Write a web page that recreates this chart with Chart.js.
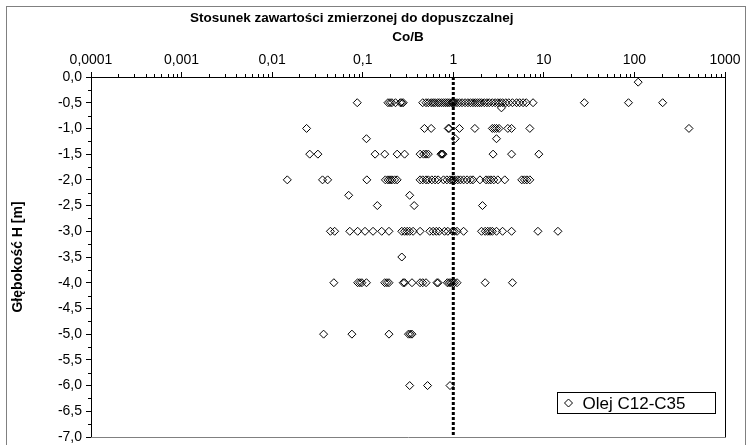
<!DOCTYPE html>
<html>
<head>
<meta charset="utf-8">
<script src="https://cdn.jsdelivr.net/npm/chart.js@4.4.0/dist/chart.umd.min.js"></script>
<style>
  body { margin: 0; background: #fff; }
  #wrap { width: 749px; height: 445px; }
</style>
</head>
<body>
<div id="wrap"><canvas id="chart" width="749" height="445"></canvas></div>
<script>
  // sampling depths H [m] and the Co/B ratios read at each depth
  const depths = [-0.1, -0.5, -0.6, -1.0, -1.2, -1.5, -2.0, -2.3, -2.5, -3.0, -3.5, -4.0, -5.0, -6.0];
  const cobH01 = [110];
  const cobH05 = [0.087, 0.19, 0.2, 0.21, 0.23, 0.26, 0.27, 0.28, 0.46, 0.5, 0.53, 0.57, 0.6, 0.63, 0.67, 0.7,
    0.74, 0.78, 0.82, 0.86, 0.9, 0.95, 0.98, 1.0, 1.04, 1.1, 1.17, 1.25, 1.35, 1.45, 1.55, 1.65, 1.75, 1.85,
    1.95, 2.05, 2.2, 2.35, 2.5, 2.7, 2.9, 3.1, 3.3, 3.5, 3.8, 4.1, 4.5, 5.0, 5.4, 5.9, 6.4, 7.6, 28, 86, 205];
  const cobH06 = [3.4];
  const cobH10 = [0.024, 0.48, 0.57, 0.88, 0.9, 1.17, 1.73, 2.7, 2.85, 3.0, 3.2, 4.0, 4.4, 7.0, 400];
  const cobH12 = [0.11, 1.05, 3.0];
  const cobH15 = [0.026, 0.032, 0.137, 0.175, 0.24, 0.29, 0.43, 0.47, 0.5, 0.53, 0.73, 0.75, 0.77, 2.75, 4.4, 8.8];
  const cobH20 = [0.0147, 0.036, 0.041, 0.111, 0.178, 0.19, 0.2, 0.21, 0.225, 0.24, 0.43, 0.46, 0.5, 0.53,
    0.58, 0.63, 0.68, 0.78, 0.85, 0.92, 0.97, 1.0, 1.05, 1.12, 1.2, 1.3, 1.42, 1.55, 1.65, 1.97, 2.3, 2.45,
    2.6, 2.8, 3.1, 3.7, 5.7, 6.1, 6.5, 7.0];
  const cobH23 = [0.07, 0.33];
  const cobH25 = [0.145, 0.37, 2.1];
  const cobH30 = [0.044, 0.049, 0.072, 0.088, 0.106, 0.13, 0.162, 0.195, 0.27, 0.29, 0.31, 0.33, 0.36, 0.43,
    0.55, 0.6, 0.65, 0.7, 0.8, 0.87, 0.98, 1.03, 1.1, 1.3, 2.05, 2.25, 2.4, 2.55, 2.7, 3.0, 3.5, 4.4, 8.6, 14.3];
  const cobH35 = [0.27];
  const cobH40 = [0.048, 0.088, 0.093, 0.098, 0.11, 0.175, 0.185, 0.195, 0.28, 0.29, 0.35, 0.43, 0.46, 0.5,
    0.66, 0.68, 0.86, 0.9, 0.94, 0.98, 1.03, 1.1, 2.25, 4.5];
  const cobH50 = [0.037, 0.076, 0.195, 0.32, 0.335, 0.35];
  const cobH60 = [0.33, 0.52, 0.92];
  const cobByDepth = [cobH01, cobH05, cobH06, cobH10, cobH12, cobH15, cobH20, cobH23, cobH25, cobH30,
    cobH35, cobH40, cobH50, cobH60];

  const limitLine = [{ x: 1, y: 0 }, { x: 1, y: -7 }];
  const xTickValues = [0.0001, 0.001, 0.01, 0.1, 1, 10, 100, 1000];
  const xTickLabels = ['0,0001', '0,001', '0,01', '0,1', '1', '10', '100', '1000'];
  const seriesName = 'Olej C12-C35';
  // first title line sits left of the axis centre in the original, padded to keep that offset
  const xTitle = ['Stosunek zawartości zmierzonej do dopuszczalnej' + '\u00A0'.repeat(30), 'Co/B'];

  const points = [];
  depths.forEach((h, i) => {
    cobByDepth[i].forEach(v => points.push({ x: v, y: h }));
  });

  const FONT = "'Liberation Sans', Arial, sans-serif";

  // plot frame, minor ticks, legend box and outer border
  const decor = {
    id: 'decor',
    afterDraw(chart) {
      const { ctx, chartArea: a, scales: { x, y } } = chart;
      ctx.save();
      ctx.lineWidth = 1;

      ctx.strokeStyle = '#000';
      ctx.beginPath();
      xTickValues.slice(0, -1).forEach(d => {
        for (let k = 2; k < 10; k++) {
          const px = Math.round(x.getPixelForValue(d * k)) + 0.5;
          ctx.moveTo(px, a.top);
          ctx.lineTo(px, a.top - 3);
        }
      });
      for (let v = -0.25; v > -7; v -= 0.5) {
        const py = Math.round(y.getPixelForValue(v)) + 0.5;
        ctx.moveTo(a.left, py);
        ctx.lineTo(a.left - 3, py);
      }
      ctx.moveTo(Math.round(a.right) + 0.5, a.top);
      ctx.lineTo(Math.round(a.right) + 0.5, a.bottom);
      ctx.stroke();

      ctx.strokeStyle = '#808080';
      ctx.beginPath();
      ctx.moveTo(a.left, Math.round(a.bottom) + 0.5);
      ctx.lineTo(a.right + 1, Math.round(a.bottom) + 0.5);
      ctx.stroke();

      // legend
      const lx = 557.5, ly = 392.5, lw = 158, lh = 21;
      ctx.fillStyle = '#fff';
      ctx.fillRect(lx, ly, lw, lh);
      ctx.strokeStyle = '#000';
      ctx.strokeRect(lx, ly, lw, lh);
      const cx = lx + 11, cy = ly + lh / 2, r = 4;
      ctx.beginPath();
      ctx.moveTo(cx, cy - r);
      ctx.lineTo(cx + r, cy);
      ctx.lineTo(cx, cy + r);
      ctx.lineTo(cx - r, cy);
      ctx.closePath();
      ctx.stroke();
      ctx.fillStyle = '#000';
      ctx.font = '17px ' + FONT;
      ctx.textBaseline = 'middle';
      ctx.fillText(seriesName, lx + 25, cy + 1);

      // chart border
      ctx.strokeStyle = '#808080';
      ctx.strokeRect(6.5, 6.5, 739, 445);
      ctx.restore();
    }
  };

  const ctx = document.getElementById('chart').getContext('2d');
  new Chart(ctx, {
    type: 'scatter',
    data: {
      datasets: [
        {
          label: seriesName,
          data: points,
          pointStyle: 'rectRot',
          pointRadius: 4,
          pointBorderWidth: 1,
          borderColor: '#000',
          backgroundColor: 'rgba(0,0,0,0)',
          order: 1
        },
        {
          label: 'limit',
          data: limitLine,
          showLine: true,
          borderColor: '#000',
          borderWidth: 3,
          borderDash: [3, 2],
          pointRadius: 0,
          order: 0
        }
      ]
    },
    options: {
      responsive: false,
      animation: false,
      layout: { padding: { left: 7, right: 24, top: 0, bottom: 8 } },
      plugins: { legend: { display: false }, tooltip: { enabled: false } },
      scales: {
        x: {
          type: 'logarithmic',
          position: 'top',
          min: 0.0001,
          max: 1000,
          afterBuildTicks: s => { s.ticks = xTickValues.map(v => ({ value: v })); },
          afterFit: s => { s.height = 77; },
          ticks: {
            callback: (v, i) => xTickLabels[i],
            font: { family: FONT, size: 14 },
            color: '#000',
            maxRotation: 0,
            autoSkip: false,
            padding: 3
          },
          grid: { drawOnChartArea: false, tickLength: 5, color: '#000' },
          border: { color: '#000' },
          title: {
            display: true,
            text: xTitle,
            font: { family: FONT, size: 13.5, weight: 'bold', lineHeight: 1.4 },
            color: '#000',
            padding: { top: 9, bottom: 0 }
          }
        },
        y: {
          min: -7,
          max: 0,
          afterFit: s => { s.width = 84; s.paddingTop = 0; s.paddingBottom = 0; },
          ticks: {
            stepSize: 0.5,
            callback: v => v.toFixed(1).replace('.', ','),
            font: { family: FONT, size: 14 },
            color: '#000',
            padding: 4
          },
          grid: { drawOnChartArea: false, tickLength: 5, color: '#000' },
          border: { color: '#000' },
          title: {
            display: true,
            text: 'Głębokość H [m]',
            font: { family: FONT, size: 14, weight: 'bold' },
            color: '#000',
            padding: { top: 3, bottom: 2 }
          }
        }
      }
    },
    plugins: [decor]
  });
</script>
</body>
</html>
